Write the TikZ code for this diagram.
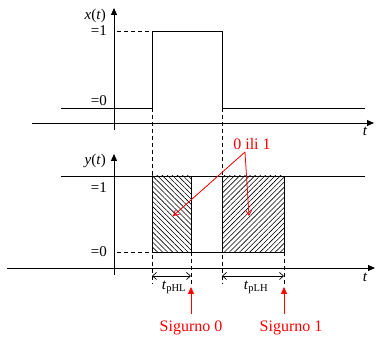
\documentclass[tikz,border=0pt]{standalone}
\usepackage{fontspec}
\setmainfont{Liberation Serif}
\usetikzlibrary{arrows.meta,patterns.meta}
\definecolor{sred}{RGB}{255,0,0}
\tikzset{
  axis/.style={line width=0.9pt,-{Triangle[length=7pt,width=6pt]}},
  sig/.style={line width=0.9pt},
  guide/.style={dashed,line width=0.7pt,dash pattern=on 4pt off 3pt},
  lbl/.style={font=\fontsize{15}{15}\selectfont,inner sep=0pt},
  rlbl/.style={font=\fontsize{16}{16}\selectfont,inner sep=0pt,text=sred},
  dim/.style={line width=0.7pt,{Straight Barb[length=4pt,width=7pt]}-{Straight Barb[length=4pt,width=7pt]}},
  rarr/.style={draw=sred,line width=0.8pt,-{Straight Barb[length=5pt,width=6pt]}},
  rup/.style={draw=sred,line width=0.9pt,-{Triangle[length=7pt,width=6pt]}},
  hatchA/.style={pattern={Lines[angle=-45,distance=3.6pt,line width=0.6pt]}},
  hatchB/.style={pattern={Lines[angle=45,distance=3.6pt,line width=0.6pt]}},
}
\begin{document}
\begin{tikzpicture}[x=1pt,y=-1pt]
\useasboundingbox (0,0) rectangle (376,339);
% key coordinates
\coordinate (xa0) at (114,130);
\coordinate (xa1) at (114,8);
\coordinate (ta0) at (32,123);
\coordinate (ta1) at (374,123);
\coordinate (ya0) at (114,275);
\coordinate (ya1) at (114,154);
\coordinate (tb0) at (7,268);
\coordinate (tb1) at (375,268);
% top plot
\draw[axis] (xa0) -- (xa1);
\draw[axis] (ta0) -- (ta1);
\draw[sig] (61,108) -- (152,108) -- (152,31) -- (222,31) -- (222,108) -- (365,108);
\draw[guide] (117,31) -- (152,31);
\node[lbl,anchor=east] (xl) at (106,16) {\textit{x}(\textit{t})};
\node[lbl,anchor=east] (x1) at (107,31) {=1};
\node[lbl,anchor=east] (x0) at (107,101) {=0};
\node[lbl] (tt) at (365,131) {\textit{t}};
% dashed verticals
\draw[guide] (152,108) -- (152,284);
\draw[guide] (222,108) -- (222,284);
\draw[guide] (191,252) -- (191,284);
\draw[guide] (284,252) -- (284,284);
% bottom plot
\draw[axis] (ya0) -- (ya1);
\draw[axis] (tb0) -- (tb1);
\draw[sig] (61,176) -- (365,176);
\path[hatchA] (152,176) rectangle (191,252);
\path[hatchB] (222,176) rectangle (284,252);
\draw[sig] (152,176) rectangle (191,252);
\draw[sig] (222,176) rectangle (284,252);
\draw[sig] (191,252) -- (222,252);
\draw[guide] (117,252) -- (152,252);
\node[lbl,anchor=east] (yl) at (106,161) {\textit{y}(\textit{t})};
\node[lbl,anchor=east] (y1) at (107,188) {=1};
\node[lbl,anchor=east] (y0) at (107,252) {=0};
\node[lbl] (tb) at (365,277) {\textit{t}};
% dimensions
\draw[dim] (152,276) -- (191,276);
\draw[dim] (222,276) -- (284,276);
\node[lbl] (tphl) at (174,287) {\textit{t}\textsubscript{pHL}};
\node[lbl] (tplh) at (256,287) {\textit{t}\textsubscript{pLH}};
% red annotations
\node[rlbl] (oi) at (252,144) {0 ili 1};
\coordinate (oa) at (245,152);
\coordinate (h1) at (173,216);
\coordinate (h2) at (249,216);
\draw[rarr] (oa) -- (h1);
\draw[rarr] (oa) -- (h2);
\node[rlbl] (s0) at (191,328) {Sigurno 0};
\node[rlbl] (s1) at (291,328) {Sigurno 1};
\coordinate (s0a) at (191,314);
\coordinate (s0b) at (191,287);
\coordinate (s1a) at (284,314);
\coordinate (s1b) at (284,287);
\draw[rup] (s0a) -- (s0b);
\draw[rup] (s1a) -- (s1b);
\end{tikzpicture}
\end{document}
